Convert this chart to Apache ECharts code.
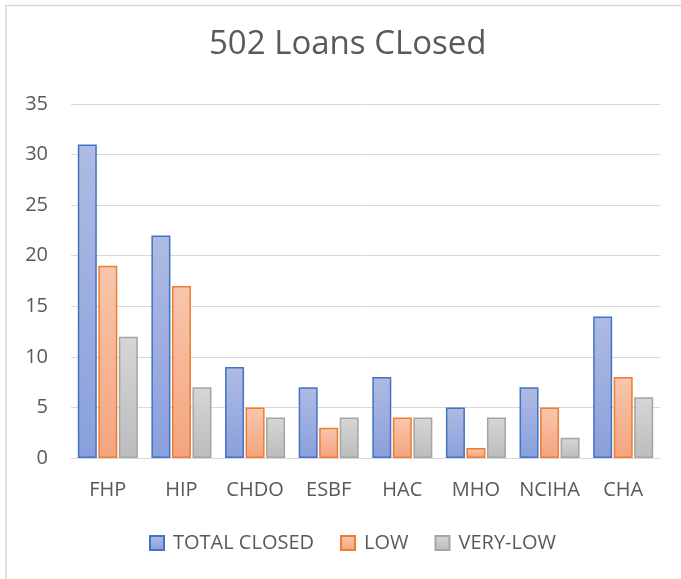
<!DOCTYPE html>
<html><head><meta charset="utf-8">
<script src="https://cdn.jsdelivr.net/npm/echarts@6/dist/echarts.min.js"></script>
<style>html,body{margin:0;padding:0;background:#fff;}#c{width:681px;height:579px;}</style>
</head><body><div id="c"></div>
<script>
const categories = ['FHP','HIP','CHDO','ESBF','HAC','MHO','NCIHA','CHA'];
const totalClosed = [31,22,9,7,8,5,7,14];
const low = [19,17,5,3,4,1,5,8];
const veryLow = [12,7,4,4,4,4,2,6];
const yTicks = [0,5,10,15,20,25,30,35];

function grad(top, bottom){
  return new echarts.graphic.LinearGradient(0,0,0,1,[{offset:0,color:top},{offset:1,color:bottom}]);
}
const font = "'Open Sans', 'Liberation Sans', sans-serif";
const chart = echarts.init(document.getElementById('c'));
chart.setOption({
  animation:false,
  title:{text:'502 Loans CLosed',left:209,top:28,padding:0,textStyle:{fontFamily:font,fontSize:33,fontWeight:'normal',color:'#595959'}},
  legend:{bottom:26,left:149,padding:0,itemWidth:14,itemHeight:14,itemGap:26,icon:'rect',
    textStyle:{fontFamily:font,fontSize:20,color:'#595959',padding:[0,0,0,4]},
    data:['TOTAL CLOSED','LOW','VERY-LOW']},
  grid:{left:71,right:21,top:104,bottom:121},
  xAxis:{type:'category',data:categories,
    axisLine:{lineStyle:{color:'#d9d9d9',width:1}},axisTick:{show:false},
    axisLabel:{interval:0,fontFamily:font,fontSize:20,color:'#595959',margin:22}},
  yAxis:{type:'value',min:yTicks[0],max:yTicks[yTicks.length-1],interval:5,
    axisLine:{show:false},axisTick:{show:false},
    splitLine:{lineStyle:{color:'#d9d9d9',width:1}},
    axisLabel:{fontFamily:font,fontSize:20,color:'#595959',margin:23}},
  series:[
    {name:'TOTAL CLOSED',type:'bar',data:totalClosed,barWidth:19,barGap:'8%',
     itemStyle:{color:grad('#aebbe2','#8a9fdc'),borderColor:'#4472c4',borderWidth:1.5}},
    {name:'LOW',type:'bar',data:low,barWidth:19,barGap:'8%',
     itemStyle:{color:grad('#f8c6ad','#f4a47d'),borderColor:'#ed7d31',borderWidth:1.5}},
    {name:'VERY-LOW',type:'bar',data:veryLow,barWidth:19,barGap:'8%',
     itemStyle:{color:grad('#d6d6d6','#bcbcbc'),borderColor:'#a5a5a5',borderWidth:1.5}}
  ],
  graphic:[
    {type:'polyline',shape:{points:[[6,579],[6,5.5],[681,5.5]]},style:{stroke:'#d9d9d9',lineWidth:1.5,fill:null},silent:true}
  ]
});
</script></body></html>
